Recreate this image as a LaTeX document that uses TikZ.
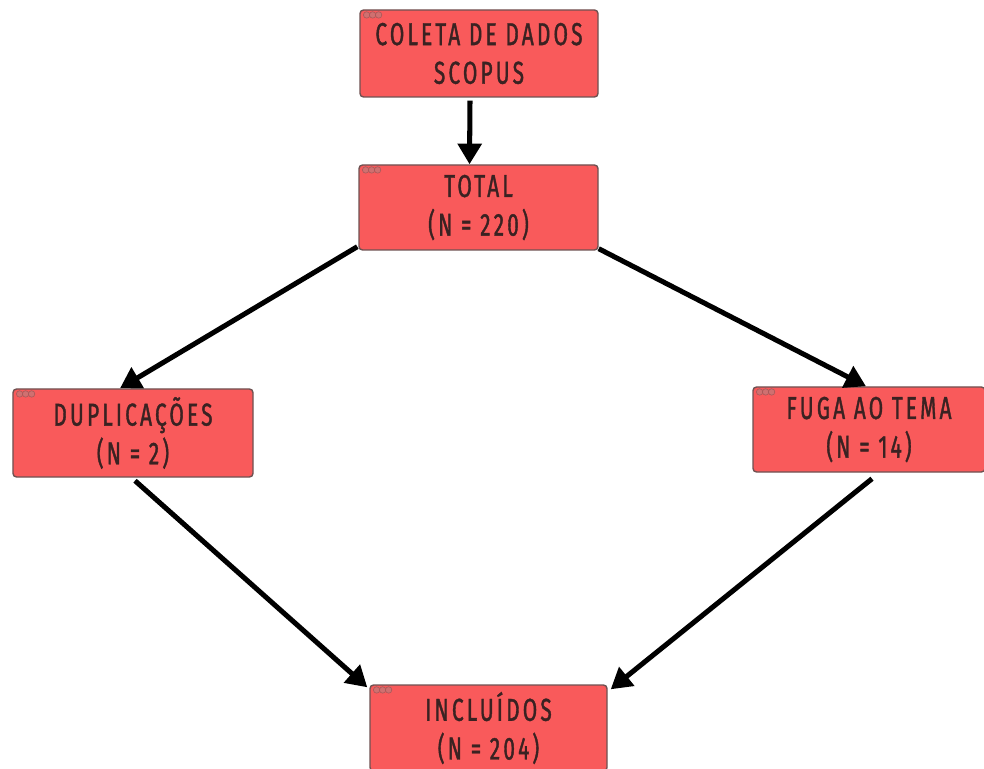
\documentclass[tikz,border=0pt]{standalone}
\usepackage{fontspec}
\usetikzlibrary{arrows.meta}
\newfontfamily\boxfont[FakeStretch=0.66,LetterSpace=10,FakeBold=1.2]{Fira Sans}
\definecolor{boxred}{HTML}{F95A5B}
\definecolor{boxline}{HTML}{6E5252}
\definecolor{boxtext}{HTML}{3A2222}
\definecolor{dotfill}{HTML}{D07070}
\tikzset{
  flowbox/.style={rectangle, rounded corners=3pt, draw=boxline, line width=1.2pt,
    fill=boxred, align=center, text=boxtext, inner sep=0pt,
    font=\boxfont\fontsize{27}{33}\selectfont},
  arr/.style={line width=4.3pt, draw=black, -{Triangle[length=0.62cm,width=0.7cm]}},
  wdot/.style={circle, draw=gray!70!red, line width=0.5pt, fill=dotfill, minimum size=5.5pt, inner sep=0pt}
}
\newcommand{\winddots}[1]{%
  \node[wdot] at ([xshift=0.22cm,yshift=-0.17cm]#1.north west) {};
  \node[wdot] at ([xshift=0.40cm,yshift=-0.17cm]#1.north west) {};
  \node[wdot] at ([xshift=0.58cm,yshift=-0.17cm]#1.north west) {};
}
\begin{document}
\begin{tikzpicture}[x=0.03cm,y=-0.03cm]
\useasboundingbox (0,0) rectangle (984,769);
\node[flowbox, minimum width=7.14cm, minimum height=2.61cm] (b1) at (479,53.5) {COLETA DE DADOS\\SCOPUS};
\node[flowbox, minimum width=7.17cm, minimum height=2.55cm] (b2) at (478.5,207.5) {TOTAL\\(N = 220)};
\node[flowbox, minimum width=7.2cm, minimum height=2.64cm] (b3) at (133,433) {DUPLICAÇÕES\\(N = 2)};
\node[flowbox, minimum width=6.96cm, minimum height=2.55cm] (b4) at (869,429.5) {FUGA AO TEMA\\(N = 14)};
\node[flowbox, minimum width=7.11cm, minimum height=2.58cm] (b5) at (488.5,728) {INCLUÍDOS\\(N = 204)};
\winddots{b1}\winddots{b2}\winddots{b3}\winddots{b4}\winddots{b5}
\draw[arr] ([xshift=-0.27cm,yshift=-0.09cm]b1.south) -- ([xshift=-0.27cm]b2.north);
\draw[arr] ([xshift=-0.03cm,yshift=0.12cm]b2.south west) -- ([xshift=-0.39cm]b3.north);
\draw[arr] ([yshift=0.06cm]b2.south east) -- ([xshift=-0.09cm]b4.north);
\draw[arr] ([xshift=0.06cm,yshift=-0.09cm]b3.south) -- ([xshift=-0.06cm,yshift=-0.09cm]b5.north west);
\draw[arr] ([xshift=0.09cm,yshift=-0.18cm]b4.south) -- ([xshift=0.09cm,yshift=-0.15cm]b5.north east);
\end{tikzpicture}
\end{document}
